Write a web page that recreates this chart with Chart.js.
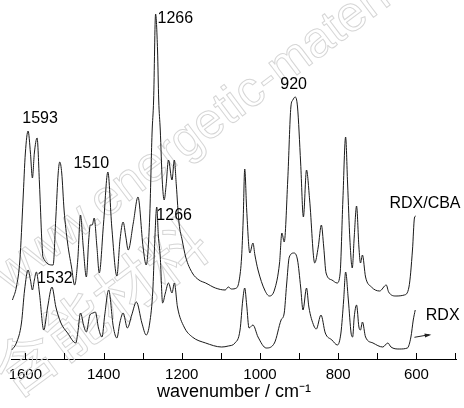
<!DOCTYPE html>
<html>
<head>
<meta charset="utf-8">
<script src="https://cdn.jsdelivr.net/npm/chart.js@4.4.0/dist/chart.umd.min.js"></script>
<style>
  html, body { margin: 0; padding: 0; background: #fff; }
  #spectrum { display: block; }
</style>
</head>
<body>
<canvas id="spectrum" width="464" height="408"></canvas>
<script>
// RDX/CBA trace (upper), wavenumber in cm-1 and intensity in arbitrary units
const cbaWavenumber = [
    1633, 1623, 1614, 1606, 1600, 1593, 1587, 1582, 1577, 1570,
    1564, 1558, 1555, 1529, 1522, 1516, 1512, 1507, 1501, 1492,
    1482, 1474, 1466, 1459, 1452, 1444, 1438, 1434, 1429, 1424,
    1417, 1411, 1400, 1389, 1379, 1366, 1358, 1350, 1343, 1337,
    1324, 1312, 1299, 1291, 1282, 1276, 1272, 1267, 1262, 1259,
    1255, 1250, 1245, 1240, 1234, 1225, 1219, 1214, 1207, 1199,
    1190, 1173, 1156, 1139, 1114, 1089, 1081, 1073, 1060, 1053,
    1047, 1043, 1039, 1034, 1026, 1018, 1013, 1005, 988, 976,
    963, 950, 944, 938, 929, 921, 916, 910, 904, 896,
    889, 881, 873, 860, 851, 843, 837, 831, 816, 803,
    795, 788, 781, 776, 770, 764, 759, 753, 747, 743,
    738, 730, 715, 694, 677, 671, 652, 631, 619, 610,
    605, 602
];
const cbaIntensity = [
    59, 72, 99, 159, 206, 228, 206, 181, 206, 221,
    176, 119, 102, 94, 142, 186, 197, 186, 149, 116,
    92, 74, 99, 144, 112, 82, 119, 134, 134, 141,
    112, 86, 136, 187, 132, 83, 119, 137, 122, 109,
    136, 162, 112, 94, 142, 226, 259, 345, 309, 259,
    229, 179, 159, 174, 199, 179, 199, 174, 136, 119,
    102, 86, 79, 76, 71, 69, 72, 70, 71, 79,
    102, 139, 190, 149, 106, 116, 104, 89, 69, 63,
    69, 96, 126, 117, 179, 252, 259, 262, 252, 196,
    142, 189, 159, 96, 112, 134, 112, 86, 79, 76,
    86, 159, 222, 176, 119, 91, 122, 153, 112, 96,
    104, 82, 72, 68, 74, 67, 63, 64, 72, 109,
    141, 143
];

// RDX trace (lower)
const rdxWavenumber = [
    1635, 1623, 1610, 1602, 1593, 1587, 1582, 1577, 1572, 1564,
    1553, 1543, 1532, 1522, 1509, 1492, 1471, 1466, 1459, 1450,
    1444, 1435, 1427, 1421, 1413, 1404, 1397, 1387, 1375, 1366,
    1358, 1350, 1339, 1328, 1316, 1302, 1291, 1282, 1274, 1270,
    1264, 1260, 1255, 1249, 1242, 1234, 1225, 1219, 1211, 1194,
    1173, 1139, 1098, 1081, 1064, 1051, 1044, 1039, 1034, 1028,
    1018, 1005, 984, 963, 946, 938, 932, 925, 913, 904,
    896, 890, 881, 875, 862, 856, 844, 833, 816, 802,
    793, 786, 781, 774, 767, 763, 759, 753, 747, 743,
    738, 730, 711, 686, 673, 665, 644, 623, 614, 608,
    603
];
const rdxIntensity = [
    9, 16, 36, 69, 89, 79, 69, 79, 87, 66,
    29, 52, 72, 52, 36, 26, 16, 26, 46, 32,
    27, 44, 46, 47, 31, 22, 44, 69, 32, 21,
    37, 46, 31, 44, 57, 36, 24, 36, 69, 109,
    152, 124, 102, 56, 66, 76, 66, 76, 52, 32,
    22, 16, 12, 13, 16, 29, 59, 71, 54, 31,
    34, 22, 11, 16, 39, 46, 74, 102, 106, 99,
    72, 49, 71, 52, 33, 30, 44, 26, 19, 14,
    26, 59, 87, 59, 26, 22, 42, 54, 32, 29,
    37, 22, 16, 12, 16, 12, 10, 11, 22, 39,
    49
];

const majorTicks = [1600, 1400, 1200, 1000, 800, 600];
const minorTicks = [1500, 1300, 1100, 900, 700, 500];

// text annotations anchored in data units (left edge, vertical middle)
const peakLabels = [
    { text: '1266', w: 1262, i: 340 },
    { text: '1593', w: 1608, i: 240 },
    { text: '1510', w: 1477, i: 195 },
    { text: '920', w: 948, i: 274 },
    { text: '1266', w: 1265, i: 143 },
    { text: '1532', w: 1570, i: 80 },
    { text: 'RDX/CBA', w: 669, i: 155 },
    { text: 'RDX', w: 576, i: 43 }
];
const rdxArrow = { from: [605, 21.7], to: [567, 24.3] };

const FONT = '"Liberation Sans", Arial, sans-serif';

function toPoints(xs, ys) {
    return xs.map((x, k) => ({ x: x, y: ys[k] }));
}

const overlay = {
    id: 'overlay',
    beforeDatasetsDraw(chart) {
        const ctx = chart.ctx;
        ctx.save();
        ctx.strokeStyle = '#d6d6d6';
        ctx.lineWidth = 1;
        ctx.font = '50px "Liberation Sans", Arial, sans-serif';
        ctx.translate(9, 292);
        ctx.rotate(-37 * Math.PI / 180);
        ctx.strokeText('www.energetic-materials.org.cn', 0, 0);
        ctx.restore();

        ctx.save();
        ctx.strokeStyle = '#d6d6d6';
        ctx.lineWidth = 1;
        ctx.font = '62px "Noto Sans CJK SC", sans-serif';
        ctx.translate(14, 400);
        ctx.rotate(-36.5 * Math.PI / 180);
        ctx.strokeText('含能材料', 0, 0);
        ctx.restore();
    },
    afterDraw(chart) {
        const ctx = chart.ctx;
        const xs = chart.scales.x;
        const ys = chart.scales.y;
        const bottom = chart.chartArea.bottom;

        ctx.save();
        ctx.strokeStyle = '#000';
        ctx.lineWidth = 1;
        majorTicks.concat(minorTicks).forEach(v => {
            const px = Math.round(xs.getPixelForValue(v)) + 0.5;
            ctx.beginPath();
            ctx.moveTo(px, bottom);
            ctx.lineTo(px, bottom - 6);
            ctx.stroke();
        });

        ctx.fillStyle = '#000';
        ctx.font = '16px ' + FONT;
        ctx.textAlign = 'left';
        ctx.textBaseline = 'middle';
        peakLabels.forEach(l => {
            ctx.fillText(l.text, xs.getPixelForValue(l.w), ys.getPixelForValue(l.i));
        });

        const x1 = xs.getPixelForValue(rdxArrow.from[0]);
        const y1 = ys.getPixelForValue(rdxArrow.from[1]);
        const x2 = xs.getPixelForValue(rdxArrow.to[0]);
        const y2 = ys.getPixelForValue(rdxArrow.to[1]);
        const ang = Math.atan2(y2 - y1, x2 - x1);
        ctx.strokeStyle = '#222';
        ctx.beginPath();
        ctx.moveTo(x1, y1);
        ctx.lineTo(x2, y2);
        ctx.stroke();
        ctx.beginPath();
        ctx.moveTo(x2 + 2, y2);
        ctx.lineTo(x2 - 5 * Math.cos(ang - 0.4), y2 - 5 * Math.sin(ang - 0.4));
        ctx.lineTo(x2 - 5 * Math.cos(ang + 0.4), y2 - 5 * Math.sin(ang + 0.4));
        ctx.closePath();
        ctx.fillStyle = '#222';
        ctx.fill();
        ctx.restore();
    }
};

const lineStyle = {
    borderColor: '#1a1a1a',
    borderWidth: 1,
    pointRadius: 0,
    fill: false,
    cubicInterpolationMode: 'monotone'
};

new Chart(document.getElementById('spectrum').getContext('2d'), {
    type: 'line',
    data: {
        datasets: [
            { label: 'RDX/CBA', data: toPoints(cbaWavenumber, cbaIntensity), ...lineStyle },
            { label: 'RDX', data: toPoints(rdxWavenumber, rdxIntensity), ...lineStyle }
        ]
    },
    options: {
        responsive: false,
        animation: false,
        events: [],
        layout: { padding: { left: 10, right: 3, top: 0, bottom: 7.2 } },
        plugins: {
            legend: { display: false },
            tooltip: { enabled: false }
        },
        scales: {
            x: {
                type: 'linear',
                reverse: true,
                min: 497,
                max: 1636,
                border: { display: true, color: '#000', width: 1 },
                grid: { display: true, drawOnChartArea: false, drawTicks: false, color: 'rgba(0,0,0,0)' },
                ticks: {
                    stepSize: 100,
                    includeBounds: false,
                    autoSkip: false,
                    maxRotation: 0,
                    padding: 8.5,
                    color: '#000',
                    font: { family: FONT, size: 15, lineHeight: 1 },
                    callback: v => majorTicks.includes(v) ? String(v) : ''
                },
                title: {
                    display: true,
                    text: 'wavenumber / cm⁻¹',
                    color: '#000',
                    font: { family: FONT, size: 18, lineHeight: 1 },
                    padding: { top: -8.2, bottom: 0 }
                }
            },
            y: {
                display: false,
                min: 0,
                max: 359
            }
        }
    },
    plugins: [overlay]
});
</script>
</body>
</html>
